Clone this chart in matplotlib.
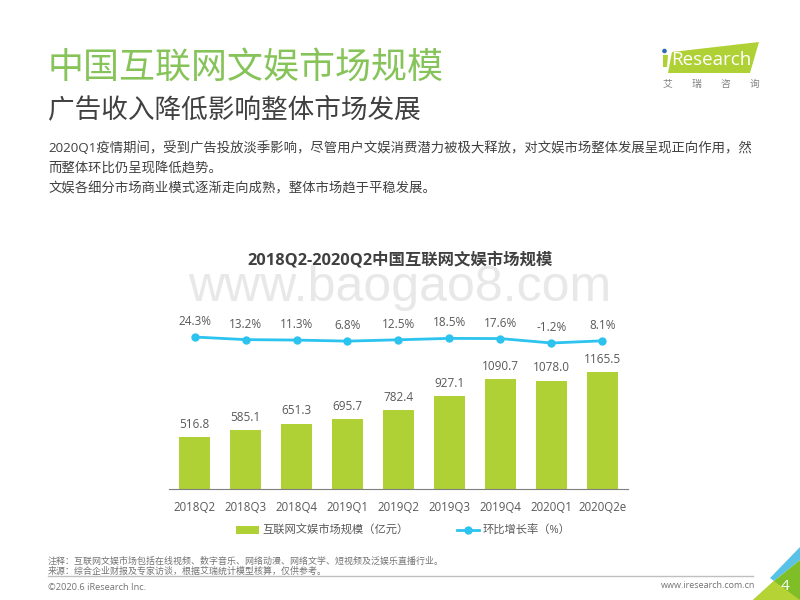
import numpy as np
import matplotlib
matplotlib.use('Agg')
import matplotlib.pyplot as plt
from matplotlib.patches import Polygon, Circle

plt.rcParams['font.family'] = ['Open Sans', 'Noto Sans CJK SC', 'DejaVu Sans']

# donnees
quarters = ['2018Q2', '2018Q3', '2018Q4', '2019Q1', '2019Q2', '2019Q3', '2019Q4', '2020Q1', '2020Q2e']
market_size = [516.8, 585.1, 651.3, 695.7, 782.4, 927.1, 1090.7, 1078.0, 1165.5]
growth_rate = [24.3, 13.2, 11.3, 6.8, 12.5, 18.5, 17.6, -1.2, 8.1]

GREEN = '#b0d136'
BLUE = '#2cc3ee'
GREY = '#595959'

title = '中国互联网文娱市场规模'
subtitle = '广告收入降低影响整体市场发展'
body_lines = ['2020Q1疫情期间，受到广告投放淡季影响，尽管用户文娱消费潜力被极大释放，对文娱市场整体发展呈现正向作用，然',
              '而整体环比仍呈现降低趋势。',
              '文娱各细分市场商业模式逐渐走向成熟，整体市场趋于平稳发展。']
chart_title = '2018Q2-2020Q2中国互联网文娱市场规模'
note_lines = ['注释：互联网文娱市场包括在线视频、数字音乐、网络动漫、网络文学、短视频及泛娱乐直播行业。',
              '来源：综合企业财报及专家访谈，根据艾瑞统计模型核算，仅供参考。']

W, H = 800, 600
fig = plt.figure(figsize=(8, 6), dpi=100)

# fond en pixels pour le decor de la page
bg = fig.add_axes([0, 0, 1, 1])
bg.set_xlim(0, W)
bg.set_ylim(H, 0)
bg.axis('off')

bg.text(48, 68, title, fontsize=25.9, color='#86c45a', va='center', fontweight='light')
bg.text(48, 110, subtitle, fontsize=19.2, color='#404040', va='center', fontweight='light')
for y, line in zip([148, 168, 188.5], body_lines):
    bg.text(48, y, line, fontsize=9.6, color='#404040', va='center')
bg.text(400, 288, 'www.baogao8.com', fontsize=36, color='#e8e8e8', ha='center', va='center', zorder=0,
        family='Liberation Sans')
bg.text(400, 260, chart_title, fontsize=11.8, color='#404040', ha='center', va='center', fontweight='bold')

# logo
bg.add_patch(Polygon([[672, 52], [759, 42], [750, 73], [668, 73]], color=GREEN, lw=0))
bg.add_patch(Circle((664.5, 51), 2.3, color='#2e6db4', lw=0))
bg.add_patch(Polygon([[663, 55], [668, 55], [667, 67], [663, 67]], color=GREEN, lw=0))
bg.text(671, 60, 'Research', fontsize=13.5, color='white', va='center')
for x, c in zip([667, 696, 725, 754], '艾瑞咨询'):
    bg.text(x, 84, c, fontsize=7, color='#808080', ha='center', va='center')

# pied de page
for y, line in zip([561, 571.5], note_lines):
    bg.text(48, y, line, fontsize=6.45, color='#737373', va='center')
bg.plot([48, 753], [576, 576], color='#bfbfbf', lw=1)
bg.text(48, 587, '©2020.6 iResearch Inc.', fontsize=6.7, color='#737373', va='center')
bg.text(755, 586, 'www.iresearch.com.cn', fontsize=6.5, color='#737373', ha='right', va='center')
bg.add_patch(Polygon([[800, 547], [800, 560], [774, 581], [770, 578]], color='#5bc2e7', lw=0))
bg.add_patch(Polygon([[800, 560], [800, 600], [753, 600], [774, 581]], color='#7fbe26', lw=0))
bg.add_patch(Polygon([[774, 581], [800, 600], [753, 600]], color='#b5d334', lw=0))
bg.text(785, 587, '4', fontsize=11, color='white', ha='center', va='center')

# graphique
left, right, bottom, top = 169, 628, 489, 300
ax = fig.add_axes([left / W, 1 - bottom / H, (right - left) / W, (bottom - top) / H])
ax.patch.set_alpha(0)
x = np.arange(len(quarters))
bars = ax.bar(x, market_size, width=0.62, color=GREEN, label='互联网文娱市场规模（亿元）')
ax.set_xlim(-0.5, len(quarters) - 0.5)
ax.set_ylim(0, 1882)
ax.set_xticks(x)
ax.set_xticklabels(quarters, fontsize=8.3, color=GREY)
ax.tick_params(axis='x', length=0, pad=8.5)
ax.set_yticks([])
for s in ['top', 'left', 'right']:
    ax.spines[s].set_visible(False)
ax.spines['bottom'].set_color('#7f7f7f')
for xi, v in zip(x, market_size):
    ax.annotate(f'{v:.1f}', (xi, v), xytext=(0, 4.5), textcoords='offset points',
                ha='center', va='bottom', fontsize=8.5, color=GREY)

ax2 = ax.twinx()
ax2.patch.set_alpha(0)
line, = ax2.plot(x, growth_rate, color=BLUE, lw=2, marker='o', ms=5, label='环比增长率（%）')
ax2.set_ylim(-622.5, 181.8)
ax2.set_yticks([])
for s in ax2.spines.values():
    s.set_visible(False)
for xi, v in zip(x, growth_rate):
    ax2.annotate(f'{v:.1f}%', (xi, v), xytext=(0, 6.5), textcoords='offset points',
                 ha='center', va='bottom', fontsize=8.5, color=GREY)

fig.legend(handles=[bars, line], loc='center', bbox_to_anchor=(403.5 / W, 1 - 531 / H), ncol=2, frameon=False,
           fontsize=8.1, labelcolor=GREY, columnspacing=4.3, handlelength=2.0, handletextpad=0.3)

fig.savefig('out.png', dpi=100)
